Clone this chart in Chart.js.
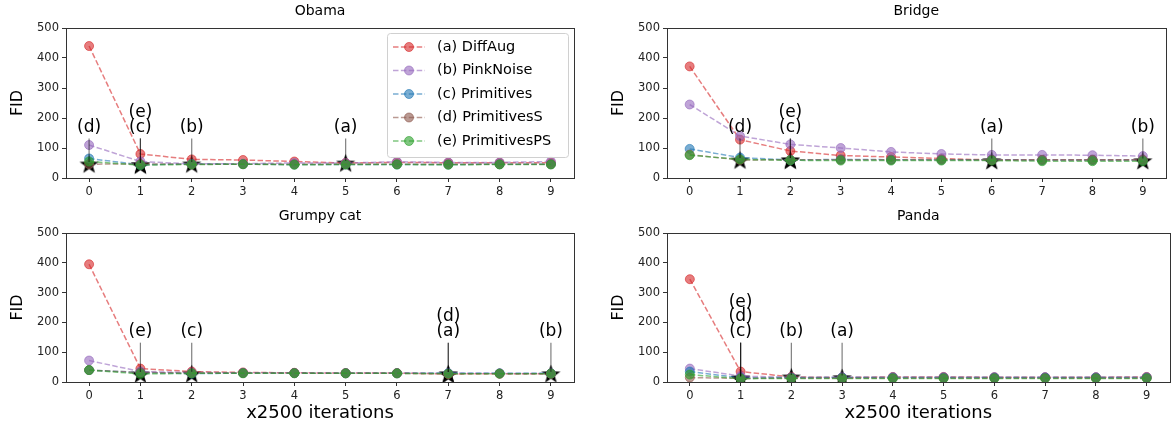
<!DOCTYPE html>
<html>
<head>
<meta charset="utf-8">
<script src="https://cdn.jsdelivr.net/npm/chart.js@4.4.1/dist/chart.umd.min.js"></script>
<style>
  html, body { margin: 0; padding: 0; background: #fff; overflow: hidden; }
  body { width: 1171px; height: 429px; position: relative; }
  canvas { position: absolute; }
</style>
</head>
<body>
<canvas id="obama"></canvas>
<canvas id="bridge"></canvas>
<canvas id="grumpy"></canvas>
<canvas id="panda"></canvas>
<script>
// ---- data ----
const iterations = [0, 1, 2, 3, 4, 5, 6, 7, 8, 9];
const yTicks = [0, 100, 200, 300, 400, 500];
const methodNames = ['(a) DiffAug', '(b) PinkNoise', '(c) Primitives', '(d) PrimitivesS', '(e) PrimitivesPS'];
const letters = ['(a)', '(b)', '(c)', '(d)', '(e)'];

const obamaDiffAug      = [440, 80, 62, 60, 55, 50, 52, 51, 51, 51];
const obamaPinkNoise    = [110, 55, 47, 48, 50, 50, 54, 52, 52, 55];
const obamaPrimitives   = [65, 44, 47, 46, 45, 45, 45, 45, 46, 46];
const obamaPrimitivesS  = [46, 47, 46, 46, 46, 46, 46, 46, 46, 46];
const obamaPrimitivesPS = [55, 43, 45, 46, 44, 45, 45, 44, 45, 45];
const obamaBest  = [5, 2, 1, 0, 1];
const obamaStarY = [50, 47, 44, 47, 44];

const bridgeDiffAug      = [372, 128, 90, 75, 70, 65, 60, 60, 60, 60];
const bridgePinkNoise    = [245, 140, 112, 100, 87, 80, 77, 77, 76, 73];
const bridgePrimitives   = [97, 68, 60, 62, 61, 61, 61, 60, 60, 60];
const bridgePrimitivesS  = [78, 60, 61, 61, 61, 61, 61, 61, 61, 61];
const bridgePrimitivesPS = [76, 62, 59, 58, 58, 58, 58, 56, 56, 56];
const bridgeBest  = [6, 9, 2, 1, 2];
const bridgeStarY = [58, 58, 60, 60, 60];

const grumpyDiffAug      = [395, 45, 35, 32, 31, 30, 30, 27, 28, 28];
const grumpyPinkNoise    = [72, 35, 32, 31, 30, 30, 30, 30, 29, 28];
const grumpyPrimitives   = [40, 32, 28, 30, 30, 29, 29, 29, 29, 29];
const grumpyPrimitivesS  = [40, 32, 30, 30, 30, 29, 29, 27, 28, 28];
const grumpyPrimitivesPS = [40, 27, 29, 29, 29, 29, 29, 28, 28, 28];
const grumpyBest  = [7, 9, 2, 7, 1];
const grumpyStarY = [27, 28, 28, 27, 27];

const pandaDiffAug      = [345, 35, 17, 15, 17, 17, 16, 16, 16, 17];
const pandaPinkNoise    = [45, 20, 15, 16, 16, 16, 16, 16, 16, 16];
const pandaPrimitives   = [35, 14, 15, 15, 15, 15, 15, 15, 15, 15];
const pandaPrimitivesS  = [15, 12, 13, 13, 13, 13, 13, 13, 13, 13];
const pandaPrimitivesPS = [25, 11, 12, 12, 12, 12, 12, 12, 12, 12];
const pandaBest  = [3, 2, 1, 1, 1];
const pandaStarY = [15, 17, 14, 12, 12];

// label heights (FID units) for stacked annotations
const noteBase = 168;
const noteStep = 50;
const noteLineTop = 132;

const FONT = "'DejaVu Sans', sans-serif";
const rgb = ['214,39,40', '148,103,189', '31,119,180', '140,86,75', '44,160,44'];
const col = (i, a) => `rgba(${rgb[i]},${a})`;

// filled five-point star marker
function makeStar(size) {
  const c = document.createElement('canvas');
  c.width = size; c.height = size;
  const g = c.getContext('2d');
  const R = size / 2 - 0.5, r = R * 0.4, cx = size / 2, cy = size / 2 + 1;
  g.beginPath();
  for (let k = 0; k < 10; k++) {
    const rad = k % 2 ? r : R;
    const ang = -Math.PI / 2 + k * Math.PI / 5;
    g.lineTo(cx + rad * Math.cos(ang), cy + rad * Math.sin(ang));
  }
  g.closePath();
  g.fillStyle = '#000';
  g.fill();
  return c;
}
const starImg = makeStar(21);

const boxPlugin = {
  id: 'box',
  afterDatasetsDraw(chart, args, opts) {
    const { ctx, chartArea: a, scales: { x, y } } = chart;
    // annotations
    const counts = {};
    ctx.save();
    ctx.font = `17px ${FONT}`;
    ctx.textAlign = 'center';
    ctx.textBaseline = 'middle';
    opts.best.forEach((b, i) => {
      const k = counts[b] || 0;
      counts[b] = k + 1;
      const px = x.getPixelForValue(b);
      ctx.strokeStyle = 'rgba(0,0,0,0.5)';
      ctx.lineWidth = 1.2;
      ctx.beginPath();
      ctx.moveTo(px, y.getPixelForValue(noteLineTop));
      ctx.lineTo(px, y.getPixelForValue(opts.starY[i]) - 2);
      ctx.stroke();
      ctx.fillStyle = '#000';
      ctx.fillText(letters[i], px, y.getPixelForValue(noteBase + noteStep * k));
    });
    // frame
    ctx.strokeStyle = '#333';
    ctx.lineWidth = 1;
    ctx.strokeRect(Math.round(a.left) + 0.5, Math.round(a.top) + 0.5,
      Math.round(a.right - a.left), Math.round(a.bottom - a.top));
    ctx.restore();
  },
  afterDraw(chart, args, opts) {
    if (!opts.legend) return;
    const { ctx, chartArea: a } = chart;
    const bx = a.right - 187, by = a.top + 5, bw = 181, bh = 124;
    ctx.save();
    ctx.beginPath();
    ctx.roundRect(bx + 0.5, by + 0.5, bw, bh, 3);
    ctx.fillStyle = 'rgba(255,255,255,0.8)';
    ctx.fill();
    ctx.strokeStyle = '#d0d0d0';
    ctx.stroke();
    ctx.font = `14.5px ${FONT}`;
    ctx.textBaseline = 'middle';
    methodNames.forEach((name, i) => {
      const yy = by + 14 + i * 23.5;
      ctx.strokeStyle = col(i, 0.6);
      ctx.lineWidth = 1.5;
      ctx.setLineDash([5.5, 2.4]);
      ctx.beginPath();
      ctx.moveTo(bx + 6, yy);
      ctx.lineTo(bx + 38, yy);
      ctx.stroke();
      ctx.setLineDash([]);
      ctx.beginPath();
      ctx.arc(bx + 22, yy, 4.5, 0, Math.PI * 2);
      ctx.fillStyle = col(i, 0.6);
      ctx.fill();
      ctx.lineWidth = 1;
      ctx.stroke();
      ctx.fillStyle = '#000';
      ctx.fillText(name, bx + 50, yy);
    });
    ctx.restore();
  }
};

function makeChart(id, pos, title, series, best, starY, withLegend, withXLabel) {
  const el = document.getElementById(id);
  el.width = pos.w; el.height = pos.h;
  el.style.left = pos.left + 'px';
  el.style.top = pos.top + 'px';

  const datasets = series.map((vals, i) => ({
    label: methodNames[i],
    data: vals.map((v, j) => ({ x: iterations[j], y: v })),
    borderColor: col(i, 0.6),
    backgroundColor: col(i, 0.6),
    pointBorderColor: col(i, 0.6),
    pointBackgroundColor: col(i, 0.6),
    borderDash: [5.5, 2.4],
    borderWidth: 1.5,
    pointRadius: 4.5,
    pointBorderWidth: 1,
    tension: 0,
    order: 5 - i,
  }));
  datasets.push({
    label: 'best',
    data: best.map((b, i) => ({ x: b, y: starY[i] })),
    showLine: false,
    pointStyle: starImg,
    order: 10,
  });

  return new Chart(el, {
    type: 'line',
    data: { datasets },
    plugins: [boxPlugin],
    options: {
      responsive: false,
      animation: false,
      devicePixelRatio: 1,
      layout: { padding: { left: pos.padL, right: pos.padR, top: 0, bottom: 0 } },
      plugins: {
        legend: { display: false },
        tooltip: { enabled: false },
        title: {
          display: true, text: title, fullSize: false, color: '#000',
          font: { family: FONT, size: 14, weight: 'normal' },
          padding: { top: 3, bottom: 8.2 },
        },
        box: { best, starY, legend: withLegend },
      },
      scales: {
        x: {
          type: 'linear', min: -0.45, max: 9.45,
          afterBuildTicks: s => { s.ticks = iterations.map(v => ({ value: v })); },
          afterFit: s => { s.height = pos.axisH; },
          grid: { drawOnChartArea: false, color: '#333', tickLength: 4 },
          border: { color: '#333' },
          ticks: { color: '#222', autoSkip: false, maxRotation: 0, padding: 3, font: { family: FONT, size: 11.5 } },
          title: {
            display: withXLabel, text: 'x2500 iterations', color: '#000',
            font: { family: FONT, size: 18 }, padding: { top: 0, bottom: 5 },
          },
        },
        y: {
          type: 'linear', min: 0, max: 500,
          afterBuildTicks: s => { s.ticks = yTicks.map(v => ({ value: v })); },
          afterFit: s => { s.width = 66; },
          grid: { drawOnChartArea: false, color: '#333', tickLength: 4 },
          border: { color: '#333' },
          ticks: { color: '#222', padding: 3, font: { family: FONT, size: 11.5 } },
          title: {
            display: true, text: 'FID', color: '#000',
            font: { family: FONT, size: 16 }, padding: { top: 8.4, bottom: 0 },
          },
        },
      },
    },
  });
}

makeChart('obama', { left: 0, top: 0, w: 585, h: 206, padL: 0, padR: 11, axisH: 28 }, 'Obama',
  [obamaDiffAug, obamaPinkNoise, obamaPrimitives, obamaPrimitivesS, obamaPrimitivesPS],
  obamaBest, obamaStarY, true, false);
makeChart('bridge', { left: 585, top: 0, w: 586, h: 206, padL: 16, padR: 3, axisH: 28 }, 'Bridge',
  [bridgeDiffAug, bridgePinkNoise, bridgePrimitives, bridgePrimitivesS, bridgePrimitivesPS],
  bridgeBest, bridgeStarY, false, false);
makeChart('grumpy', { left: 0, top: 205, w: 585, h: 224, padL: 0, padR: 11, axisH: 47 }, 'Grumpy cat',
  [grumpyDiffAug, grumpyPinkNoise, grumpyPrimitives, grumpyPrimitivesS, grumpyPrimitivesPS],
  grumpyBest, grumpyStarY, false, true);
makeChart('panda', { left: 585, top: 205, w: 590, h: 224, padL: 16, padR: 1, axisH: 47 }, 'Panda',
  [pandaDiffAug, pandaPinkNoise, pandaPrimitives, pandaPrimitivesS, pandaPrimitivesPS],
  pandaBest, pandaStarY, false, true);
</script>
</body>
</html>
